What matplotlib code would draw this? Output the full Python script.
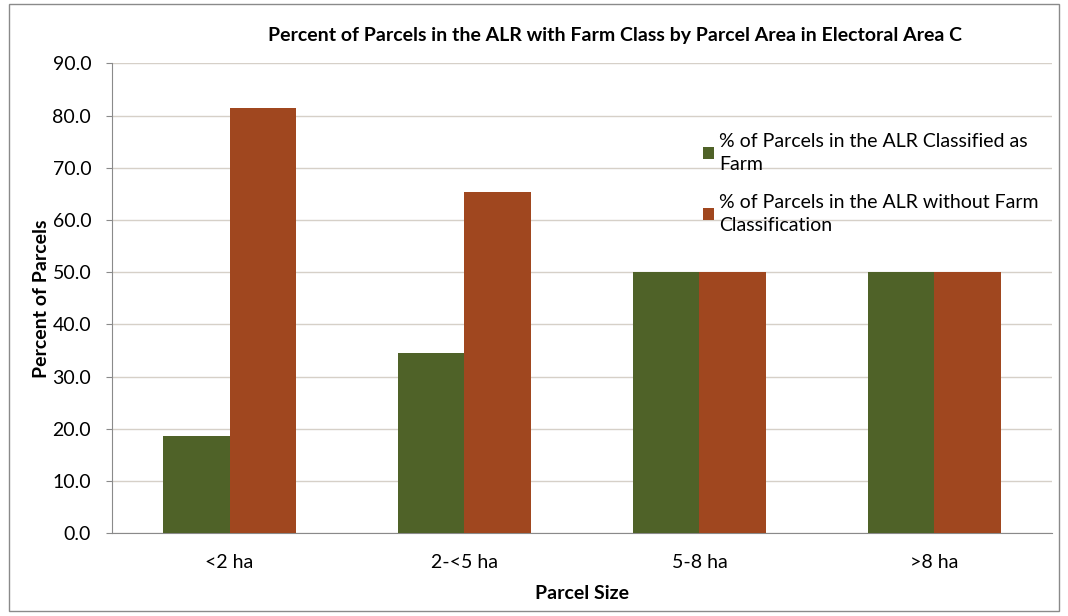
import numpy as np
import matplotlib.pyplot as plt
from matplotlib.patches import Rectangle

# Chart data
categories = ['<2 ha', '2-<5 ha', '5-8 ha', '>8 ha']
farm_pct = [18.6, 34.6, 50.0, 50.0]
no_farm_pct = [81.4, 65.4, 50.0, 50.0]
series_labels = ['% of Parcels in the ALR Classified as\nFarm',
                 '% of Parcels in the ALR without Farm\nClassification']
y_ticks = [0, 10, 20, 30, 40, 50, 60, 70, 80, 90]

plt.rcParams['font.family'] = ['Lato', 'DejaVu Sans']

fig = plt.figure(figsize=(10.68, 6.16), dpi=100)
ax = fig.add_axes([0.1049, 0.1343, 0.880, 0.7629])

# Excel-like layout: gap width ~77%
x = np.arange(len(categories))
w = 0.283
ax.bar(x - w / 2, farm_pct, w, color='#4F6228', label=series_labels[0], zorder=3)
ax.bar(x + w / 2, no_farm_pct, w, color='#A0471F', label=series_labels[1], zorder=3)

ax.set_xlim(-0.5, len(categories) - 0.5)
ax.set_ylim(0, 90)
ax.set_yticks(y_ticks)
ax.set_yticklabels(['%.1f' % v for v in y_ticks], fontsize=14)
ax.set_xticks(x)
ax.set_xticklabels(categories, fontsize=14)
ax.tick_params(axis='x', length=0, pad=15)
ax.tick_params(axis='y', length=4, color='#8a8a8a', pad=11)

ax.grid(axis='y', color='#d6d0c8', linewidth=1, zorder=0)
for s in ['top', 'right']:
    ax.spines[s].set_visible(False)
ax.spines['left'].set_color('#8a8a8a')
ax.spines['bottom'].set_color('#8a8a8a')

ax.set_ylabel('Percent of Parcels', fontsize=14, fontweight='bold', labelpad=2)
ax.set_xlabel('Parcel Size', fontsize=14, fontweight='bold', labelpad=10)
fig.text(0.576, 0.942, 'Percent of Parcels in the ALR with Farm Class by Parcel Area in Electoral Area C',
         ha='center', va='center', fontsize=14, fontweight='bold')

leg = ax.legend(loc='upper left', bbox_to_anchor=(0.61, 0.889), frameon=False, fontsize=14,
                handlelength=0.55, handleheight=0.55, handletextpad=0.3, labelspacing=1.05)
for t in leg.get_texts():
    t.set_linespacing(1.45)

# outer chart border
fig.patches.append(Rectangle((0.008, 0.008), 0.984, 0.985, transform=fig.transFigure,
                             fill=False, edgecolor='#8a8a8a', linewidth=1))

fig.savefig('out.png', dpi=100)
